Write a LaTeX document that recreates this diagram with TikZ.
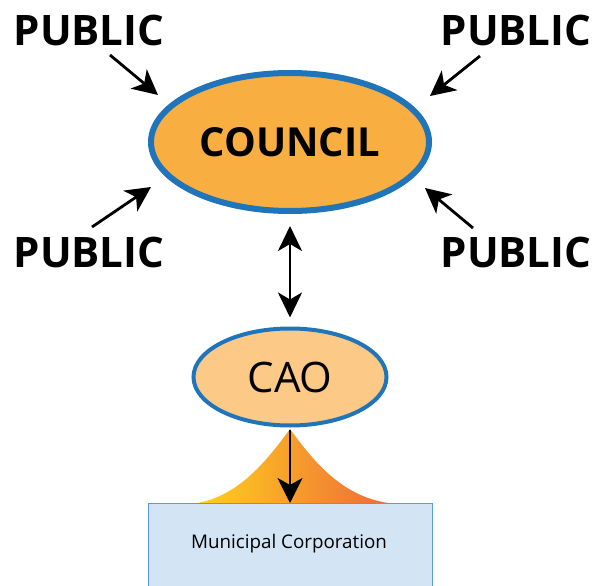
\documentclass[tikz,border=0pt]{standalone}
\usepackage{fontspec}
\setmainfont{Open Sans}
\usetikzlibrary{shapes.geometric,arrows.meta}
\definecolor{ringblue}{HTML}{1F74BA}
\definecolor{councilfill}{HTML}{F9AE41}
\definecolor{caofill}{HTML}{FCC987}
\definecolor{corpfill}{HTML}{D3E4F4}
\definecolor{corpline}{HTML}{5C9BD6}
\definecolor{bellyellow}{HTML}{FFD21C}
\definecolor{bellorange}{HTML}{F7A532}
\definecolor{bellred}{HTML}{EE6A3B}
\begin{document}
\begin{tikzpicture}[x=1pt, y=-1pt,
    public/.style={font=\fontsize{42}{42}\selectfont\bfseries, inner sep=0pt},
    link/.style={line width=2.8pt, -{Stealth[length=25pt, width=25pt, inset=7pt]}},
    twolink/.style={line width=2.8pt, {Stealth[length=25pt, width=24pt, inset=7pt]}-{Stealth[length=25pt, width=24pt, inset=7pt]}}]
        \useasboundingbox (0,0) rectangle (595,586);

        % Council e CAO
        \node[draw=ringblue, fill=councilfill, ellipse, line width=6pt, minimum width=278pt, minimum height=138pt,
              font=\fontsize{40}{40}\selectfont\bfseries] (council) at (290,142) {COUNCIL};
        \node[draw=ringblue, fill=caofill, ellipse, line width=4pt, minimum width=193pt, minimum height=97pt,
              font=\fontsize{42}{42}\selectfont] (cao) at (290,377) {CAO};

        % Forma em sino
        \shade[left color=bellyellow, middle color=bellorange, right color=bellred]
            (197,503) .. controls (238,496) and (266,462) .. (290,429)
            .. controls (314,462) and (342,496) .. (388,503) -- cycle;

        % Caixa da corporacao
        \node[draw=corpline, fill=corpfill, line width=0.8pt, anchor=north, minimum width=284pt, minimum height=110pt] (corp) at (290,503) {};
        \node[font=\fontsize{18.8}{18.8}\selectfont] (corptext) at (289,544) {Municipal Corporation};

        % Publico
        \node[public] (ptl) at (89,30) {PUBLIC};
        \node[public] (ptr) at (516,30) {PUBLIC};
        \node[public] (pbl) at (89,252) {PUBLIC};
        \node[public] (pbr) at (516,252) {PUBLIC};

        % Pontas das setas
        \coordinate (tl1) at (110,55);  \coordinate (tl2) at (158,95);
        \coordinate (tr1) at (480,56);  \coordinate (tr2) at (430,96);
        \coordinate (bl1) at (92,227);  \coordinate (bl2) at (151,187);
        \coordinate (br1) at (473,228); \coordinate (br2) at (425,188);

        % Setas
        \draw[link] (tl1) -- (tl2);
        \draw[link] (tr1) -- (tr2);
        \draw[link] (bl1) -- (bl2);
        \draw[link] (br1) -- (br2);
        \draw[twolink, shorten <=12pt, shorten >=9pt] (council.south) -- (cao.north);
        \draw[link, shorten <=2pt] (cao.south) -- (corp.north);
      \end{tikzpicture}
\end{document}
